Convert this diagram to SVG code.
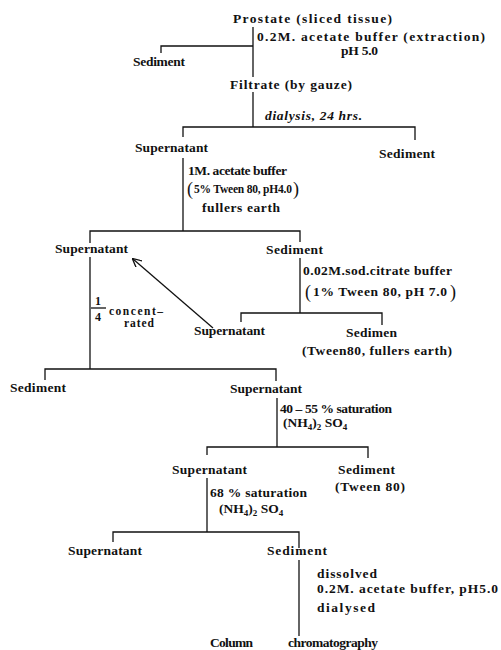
<svg xmlns="http://www.w3.org/2000/svg" width="501" height="650" viewBox="0 0 501 650">
<style>
text{font-family:"Liberation Serif","Times New Roman",serif;font-weight:bold;font-size:13.5px;fill:#111}
.s{font-size:12px}
.f{font-size:11.5px}
.big{font-size:18px;font-weight:normal}
.sub{font-size:9px}
.c line,.c polyline{stroke:#111;stroke-width:1.3;fill:none}
</style>
<defs>
<marker id="ah" viewBox="0 0 10 10" refX="9" refY="5" markerWidth="9" markerHeight="9" orient="auto" markerUnits="userSpaceOnUse">
<path d="M0,0 L10,5 L0,10" fill="none" stroke="#111" stroke-width="1.5"/>
</marker>
</defs>
<rect width="501" height="650" fill="#fff"/>
<g class="c" id="connectors">
<line x1="253" y1="27" x2="253" y2="77"/>
<polyline points="161,53 161,46 253,46"/>
<line x1="253" y1="92" x2="253" y2="127"/>
<polyline points="183,137 183,127 415,127 415,140"/>
<line x1="183" y1="158" x2="183" y2="231"/>
<polyline points="90,243 90,231 300,231 300,242"/>
<line x1="90" y1="257" x2="90" y2="369"/>
<line x1="300" y1="258" x2="300" y2="313"/>
<polyline points="241,322 241,313 382,313 382,325"/>
<line x1="213" y1="328" x2="133" y2="259" marker-end="url(#ah)"/>
<polyline points="45,380 45,369 276,369 276,381"/>
<line x1="277" y1="398" x2="277" y2="447"/>
<polyline points="207,455 207,447 368,447 368,458"/>
<line x1="207" y1="478" x2="207" y2="532"/>
<polyline points="113,542 113,532 299,532 299,548"/>
<line x1="299" y1="560" x2="299" y2="636"/>
<line x1="91" y1="308" x2="106" y2="308"/>
</g>
<g id="prostate"><text x="233" y="23" textLength="159" lengthAdjust="spacing">Prostate (sliced tissue)</text></g>
<g id="extraction"><text x="257" y="41" textLength="228" lengthAdjust="spacing">0.2M. acetate buffer (extraction)</text>
<text x="341" y="55" textLength="37" lengthAdjust="spacing">pH 5.0</text></g>
<g id="sediment1"><text x="133" y="66" textLength="52" lengthAdjust="spacing">Sediment</text></g>
<g id="filtrate"><text x="230" y="89" textLength="122" lengthAdjust="spacing">Filtrate (by gauze)</text></g>
<g id="dialysis"><text x="265" y="120" textLength="97" lengthAdjust="spacing" font-style="italic">dialysis, 24 hrs.</text></g>
<g id="supernatant1"><text x="135" y="152" textLength="73" lengthAdjust="spacing">Supernatant</text></g>
<g id="sediment2"><text x="379" y="158" textLength="56" lengthAdjust="spacing">Sediment</text></g>
<g id="acetate1"><text x="188" y="175" textLength="99" lengthAdjust="spacing">1M. acetate buffer</text>
<text x="187" y="195" class="big">(</text>
<text x="194" y="193" class="f" textLength="98" lengthAdjust="spacing">5% Tween 80, pH4.0</text>
<text x="293" y="195" class="big">)</text>
<text x="202" y="212" textLength="78" lengthAdjust="spacing">fullers earth</text></g>
<g id="supernatant2"><text x="55" y="253" textLength="73" lengthAdjust="spacing">Supernatant</text></g>
<g id="sediment3"><text x="266" y="254" textLength="57" lengthAdjust="spacing">Sediment</text></g>
<g id="citrate"><text x="303" y="275" textLength="149" lengthAdjust="spacing">0.02M.sod.citrate buffer</text>
<text x="305" y="298" class="big">(</text>
<text x="313" y="296" textLength="134" lengthAdjust="spacing">1% Tween 80, pH 7.0</text>
<text x="450" y="298" class="big">)</text></g>
<g id="concentrated"><text x="98" y="305" text-anchor="middle" class="s">1</text>
<text x="98" y="321" text-anchor="middle" class="s">4</text>
<text x="109" y="315" class="f" textLength="54" lengthAdjust="spacing">concent–</text>
<text x="124" y="327" class="f" textLength="30" lengthAdjust="spacing">rated</text></g>
<g id="supernatant3"><text x="194" y="335" textLength="71" lengthAdjust="spacing">Supernatant</text></g>
<g id="sedimen"><text x="346" y="337" textLength="51" lengthAdjust="spacing">Sedimen</text>
<text x="302" y="355" textLength="150" lengthAdjust="spacing">(Tween80, fullers earth)</text></g>
<g id="sediment4"><text x="10" y="392" textLength="56" lengthAdjust="spacing">Sediment</text></g>
<g id="supernatant4"><text x="230" y="393" textLength="72" lengthAdjust="spacing">Supernatant</text></g>
<g id="saturation1"><text x="280" y="413" textLength="112" lengthAdjust="spacing">40 – 55 % saturation</text>
<text x="283" y="427">(NH<tspan class="sub" dy="3">4</tspan><tspan dy="-3">)</tspan><tspan class="sub" dy="3">2</tspan><tspan dy="-3"> SO</tspan><tspan class="sub" dy="3">4</tspan></text></g>
<g id="supernatant5"><text x="172" y="474" textLength="75" lengthAdjust="spacing">Supernatant</text></g>
<g id="sediment5"><text x="338" y="474" textLength="57" lengthAdjust="spacing">Sediment</text>
<text x="335" y="491" textLength="70" lengthAdjust="spacing">(Tween 80)</text></g>
<g id="saturation2"><text x="210" y="497" textLength="97" lengthAdjust="spacing">68 % saturation</text>
<text x="219" y="513">(NH<tspan class="sub" dy="3">4</tspan><tspan dy="-3">)</tspan><tspan class="sub" dy="3">2</tspan><tspan dy="-3"> SO</tspan><tspan class="sub" dy="3">4</tspan></text></g>
<g id="supernatant6"><text x="68" y="555" textLength="74" lengthAdjust="spacing">Supernatant</text></g>
<g id="sediment6"><text x="267" y="555" textLength="60" lengthAdjust="spacing">Sediment</text></g>
<g id="dissolved"><text x="317" y="578" textLength="60" lengthAdjust="spacing">dissolved</text>
<text x="317" y="593" textLength="181" lengthAdjust="spacing">0.2M. acetate buffer, pH5.0</text>
<text x="317" y="612" textLength="58" lengthAdjust="spacing">dialysed</text></g>
<g id="column"><text y="647"><tspan x="210" textLength="43" lengthAdjust="spacing">Column</tspan><tspan x="288" textLength="90" lengthAdjust="spacing">chromatography</tspan></text></g>
</svg>
